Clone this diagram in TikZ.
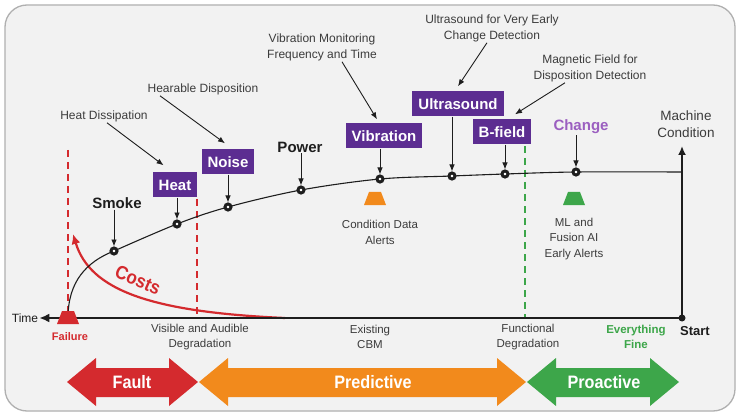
\documentclass[tikz,border=0pt]{standalone}
\usepackage{fontspec}
\setmainfont{Liberation Sans}
\newfontfamily\condfont[FakeStretch=0.9]{Liberation Sans}
\usetikzlibrary{arrows.meta}
\definecolor{bgc}{HTML}{F2F2F2}
\definecolor{framec}{HTML}{B0B0B0}
\definecolor{pbox}{HTML}{5C2D91}
\definecolor{pchange}{HTML}{9B5FC0}
\definecolor{redc}{HTML}{D42A2E}
\definecolor{orangec}{HTML}{F28A1C}
\definecolor{greenc}{HTML}{3DA64A}
\definecolor{txt}{HTML}{3C3C3C}
\definecolor{ink}{HTML}{1E1E1E}
\begin{document}
\begin{tikzpicture}[x=1pt,y=-1pt,
  pbx/.style={fill=pbox, text=white, font=\fontsize{15}{15}\selectfont\bfseries, inner xsep=6pt, inner ysep=0pt, minimum height=25pt},
  dot/.style={circle, draw=ink, fill=white, line width=3pt, minimum size=6pt, inner sep=0pt},
  ann/.style={text=txt, font=\fontsize{12}{16}\selectfont, align=center, inner sep=1pt},
  lbl/.style={text=txt, font=\fontsize{11.5}{15.5}\selectfont, align=center, inner sep=1pt},
  big/.style={text=ink, font=\fontsize{15}{15}\selectfont\bfseries, inner sep=1pt},
  pt/.style={-{Latex[length=7pt,width=5.5pt]}, line width=0.9pt, draw=ink},
  dashline/.style={line width=1.6pt, dash pattern=on 7pt off 5pt},
  arrtext/.style={text=white, font=\condfont\fontsize{18}{18}\selectfont\bfseries}]
\useasboundingbox (0,0) rectangle (742,417);
\fill[white] (0,0) rectangle (742,417);
\draw[framec, fill=bgc, line width=1.3pt, rounded corners=22pt] (5,5) rectangle (735,411);

% dashed limits
\draw[redc, dashline] (68,150) -- (68,318);
\draw[redc, dashline] (197,199) -- (197,318);
\draw[greenc, dashline] (525,146) -- (525,318);

% costs
\coordinate (cs) at (285,318);
\coordinate (ce) at (73,234);
\draw[redc, line width=2.2pt, -{Latex[length=10pt,width=9pt]}] (cs) .. controls (150,312) and (90,290) .. (ce);
\node[text=redc, font=\condfont\fontsize{19}{19}\selectfont\bfseries, rotate=-24, inner sep=0pt] (costs) at (138,280) {Costs};

% condition curve
\draw[ink, line width=1.1pt] (68,318) .. controls (68,282) and (86,262) .. (114,251)
  plot[smooth, tension=0.55] coordinates {(114,251) (177,224) (228,207) (301,190) (380,179) (452,176) (505,174) (576,172) (682,172)};

% axes
\node[circle, fill=ink, inner sep=0pt, minimum size=7pt] (start) at (682,318) {};
\node[text=ink, font=\fontsize{12}{12}\selectfont, inner sep=1pt] (time) at (25,318) {Time};
\coordinate (vtop) at (682,146);
\draw[ink, line width=2.2pt, -{Latex[length=10pt,width=9pt]}] (start.center) -- (time.east);
\draw[ink, line width=2pt, -{Latex[length=9pt,width=8pt]}] (start.center) -- (vtop);

% trapezoids
\fill[redc] (57,324) -- (79,324) -- (74,311) -- (62,311) -- cycle;
\fill[orangec] (364,205) -- (386,205) -- (381,192) -- (369,192) -- cycle;
\fill[greenc] (563,205) -- (585,205) -- (580,192) -- (568,192) -- cycle;

% dots
\node[dot] (d1) at (114,251) {};
\node[dot] (d2) at (177,224) {};
\node[dot] (d3) at (228,207) {};
\node[dot] (d4) at (301,190) {};
\node[dot] (d5) at (380,179) {};
\node[dot] (d6) at (452,176) {};
\node[dot] (d7) at (505,174) {};
\node[dot] (d8) at (576,172) {};

% sensor labels
\node[big] (smoke) at (117,203) {Smoke};
\node[big] (power) at (300,147) {Power};
\node[pbx] (heat) at (175,185) {Heat};
\node[pbx] (noise) at (228,162) {Noise};
\node[pbx] (vib) at (384,136) {Vibration};
\node[pbx] (us) at (458,104) {Ultrasound};
\node[pbx] (bf) at (502,132) {B-field};
\node[text=pchange, font=\fontsize{15}{15}\selectfont\bfseries, inner sep=1pt] (chg) at (581,127) {Change};

\draw[pt] (smoke.south -| d1) -- (d1);
\draw[pt] (power.south -| d4) -- (d4);
\draw[pt] (heat.south -| d2) -- (d2);
\draw[pt] (noise.south -| d3) -- (d3);
\draw[pt] (vib.south -| d5) -- (d5);
\draw[pt] (us.south -| d6) -- (d6);
\draw[pt] (bf.south -| d7) -- (d7);
\draw[pt] (chg.south -| d8) -- (d8);

% annotations
\node[ann] (hd) at (104,116) {Heat Dissipation};
\node[ann] (hr) at (203,89) {Hearable Disposition};
\node[ann] (vm) at (322,47) {Vibration Monitoring\\Frequency and Time};
\node[ann] (ut) at (492,28) {Ultrasound for Very Early\\Change Detection};
\node[ann] (mf) at (590,68) {Magnetic Field for\\Disposition Detection};
\node[text=txt, font=\fontsize{13.5}{17}\selectfont, align=center, inner sep=1pt] (mc) at (686,124) {Machine\\Condition};

\draw[pt] ([xshift=3pt]hd.south) -- ([xshift=11pt,yshift=7pt]heat.north west);
\draw[pt] ([xshift=-43pt]hr.south) -- ([xshift=-3pt,yshift=6pt]noise.north);
\draw[pt] ([xshift=20pt]vm.south) -- ([xshift=-7pt,yshift=4pt]vib.north);
\draw[pt] ([xshift=-5pt]ut.south) -- ([yshift=5pt]us.north);
\draw[pt] ([xshift=-25pt]mf.south) -- ([xshift=13pt,yshift=5pt]bf.north);

% alerts
\node[lbl, font=\fontsize{11.5}{16}\selectfont] (cda) at (380,232) {Condition Data\\Alerts};
\node[lbl, font=\fontsize{11.5}{15.5}\selectfont] (ml) at (574,239) {ML and\\Fusion AI\\Early Alerts};

% bottom labels
\node[text=redc, font=\fontsize{11}{11}\selectfont\bfseries, inner sep=1pt] (fail) at (70,337) {Failure};
\node[lbl] (vad) at (200,337) {Visible and Audible\\Degradation};
\node[lbl] (cbm) at (370,337) {Existing\\CBM};
\node[lbl] (fd) at (528,337) {Functional\\Degradation};
\node[text=greenc, font=\fontsize{11.5}{15.5}\selectfont\bfseries, align=center, inner sep=1pt] (ef) at (636,337) {Everything\\Fine};
\node[text=ink, font=\fontsize{13}{13}\selectfont\bfseries, inner sep=1pt] (st) at (695,331) {Start};

% bottom double arrows
\fill[redc] (67,382) -- (96,358) -- (96,368) -- (169,368) -- (169,358) -- (198,382) -- (169,406) -- (169,397) -- (96,397) -- (96,406) -- cycle;
\fill[orangec] (199,382) -- (228,358) -- (228,368) -- (497,368) -- (497,358) -- (526,382) -- (497,406) -- (497,397) -- (228,397) -- (228,406) -- cycle;
\fill[greenc] (527,382) -- (556,358) -- (556,368) -- (650,368) -- (650,358) -- (679,382) -- (650,406) -- (650,397) -- (556,397) -- (556,406) -- cycle;
\node[arrtext] (fault) at (132,382) {Fault};
\node[arrtext] (pred) at (373,382) {Predictive};
\node[arrtext] (proa) at (604,382) {Proactive};
\end{tikzpicture}
\end{document}
